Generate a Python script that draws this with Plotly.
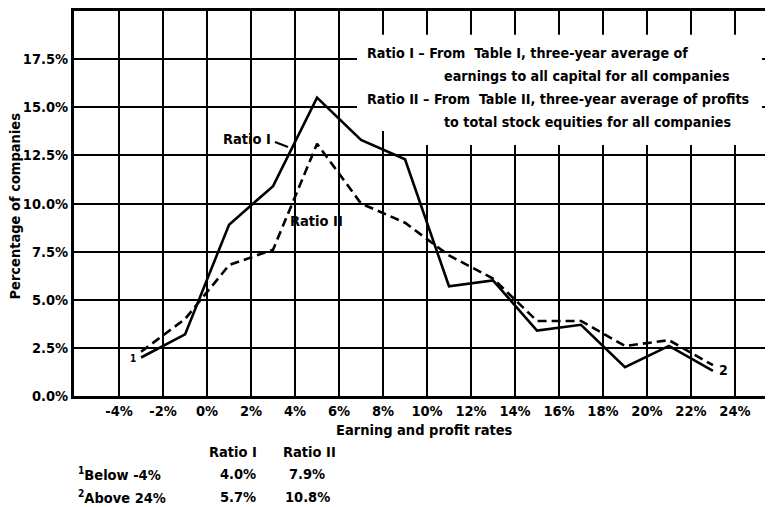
import plotly.graph_objects as go

# ---- data ----
rates = [-3, -1, 1, 3, 5, 7, 9, 11, 13, 15, 17, 19, 21, 23]
ratio_1 = [2.0, 3.2, 8.9, 10.9, 15.5, 13.3, 12.3, 5.7, 6.0, 3.4, 3.7, 1.5, 2.6, 1.3]
ratio_2 = [2.3, 4.0, 6.8, 7.6, 13.1, 10.0, 9.0, 7.3, 6.1, 3.9, 3.9, 2.6, 2.9, 1.6]
x_ticks = [-4, -2, 0, 2, 4, 6, 8, 10, 12, 14, 16, 18, 20, 22, 24]
x_tick_labels = [f"{v}%" for v in x_ticks]
y_ticks = [0, 2.5, 5, 7.5, 10, 12.5, 15, 17.5]
y_tick_labels = [f"{v:.1f}%" for v in y_ticks]
foot_rows = ["<sup>1</sup>Below -4%", "<sup>2</sup>Above 24%"]
foot_r1 = ["4.0%", "5.7%"]
foot_r2 = ["7.9%", "10.8%"]

OFF = 8  # page body margin
W, H = 773 - OFF, 507 - OFF
L, R, T = 74 - OFF, 0, 0
B = H - (396 - OFF)
PW, PH = W - L - R, H - T - B
FONT = "DejaVu Sans Condensed, Liberation Sans Narrow, Arial Narrow, sans-serif"


def px(x):
    return (x - OFF - L) / PW


def py(y):
    return (H - B - (y - OFF)) / PH


fig = go.Figure()
fig.add_trace(go.Scatter(x=rates, y=ratio_1, mode="lines",
                         line=dict(color="black", width=2.6), showlegend=False))
fig.add_trace(go.Scatter(x=rates, y=ratio_2, mode="lines",
                         line=dict(color="black", width=2.6, dash="9px,5px"), showlegend=False))

ann = []


def text(x, y, s, size=14.5, xa="center", ya="middle"):
    ann.append(dict(x=px(x), y=py(y), xref="paper", yref="paper", text=s, showarrow=False,
                    xanchor=xa, yanchor=ya,
                    font=dict(family=FONT, size=size, color="black", weight="bold")))


# legend box text
text(365, 50, "Ratio I \u2013 From  Table I, three-year average of", size=14.2, xa="left")
text(442, 74, "earnings to all capital for all companies", size=14.2, xa="left")
text(365, 97, "Ratio II \u2013 From  Table II, three-year average of profits", size=14.2, xa="left")
text(442, 120, "to total stock equities for all companies", size=14.2, xa="left")
# line labels
text(247, 137, "Ratio I")
text(316, 220, "Ratio II")
text(133, 358, "1", size=10)
text(723, 370, "2", size=14)
# axis titles
text(424, 430, "Earning and profit rates")
ann.append(dict(x=px(5), y=py(205), xref="paper", yref="paper", text="Percentage of companies",
                showarrow=False, textangle=-90,
                font=dict(family=FONT, size=14.5, color="black", weight="bold")))
# footnote table
text(233, 452, "Ratio I")
text(309, 452, "Ratio II")
for i, (lab, a, b) in enumerate(zip(foot_rows, foot_r1, foot_r2)):
    yy = 475 + 22.5 * i
    text(76, yy, lab, xa="left")
    text(238, yy, a)
    text(307, yy, b)

shapes = [
    dict(type="rect", xref="paper", yref="paper", x0=px(357), x1=px(762), y0=py(129), y1=py(32),
         fillcolor="white", line=dict(width=0), layer="above"),
    dict(type="rect", xref="paper", yref="paper", x0=px(386), x1=px(762), y0=py(143), y1=py(128),
         fillcolor="white", line=dict(width=0), layer="above"),
    dict(type="line", xref="paper", yref="paper", x0=px(275), y0=py(140), x1=px(288), y1=py(145),
         line=dict(color="black", width=2)),
]

fig.update_layout(
    width=W, height=H,
    margin=dict(l=L, r=R, t=T, b=B),
    paper_bgcolor="white", plot_bgcolor="white",
    annotations=ann, shapes=shapes,
    font=dict(family=FONT, size=14, color="black"),
    xaxis=dict(range=[-6.05, 25.73], tickvals=x_ticks, ticktext=x_tick_labels,
               showgrid=True, gridcolor="black", gridwidth=1.7, zeroline=False,
               showline=True, linecolor="black", linewidth=3, mirror=True,
               ticks="", tickfont=dict(family=FONT, size=14.5, weight="bold")),
    yaxis=dict(range=[0, 20], tickvals=y_ticks, ticktext=y_tick_labels,
               showgrid=True, gridcolor="black", gridwidth=1.5, zeroline=False,
               showline=True, linecolor="black", linewidth=3,
               ticks="", tickfont=dict(family=FONT, size=14.5, weight="bold")),
)

fig.write_html("out.html")
